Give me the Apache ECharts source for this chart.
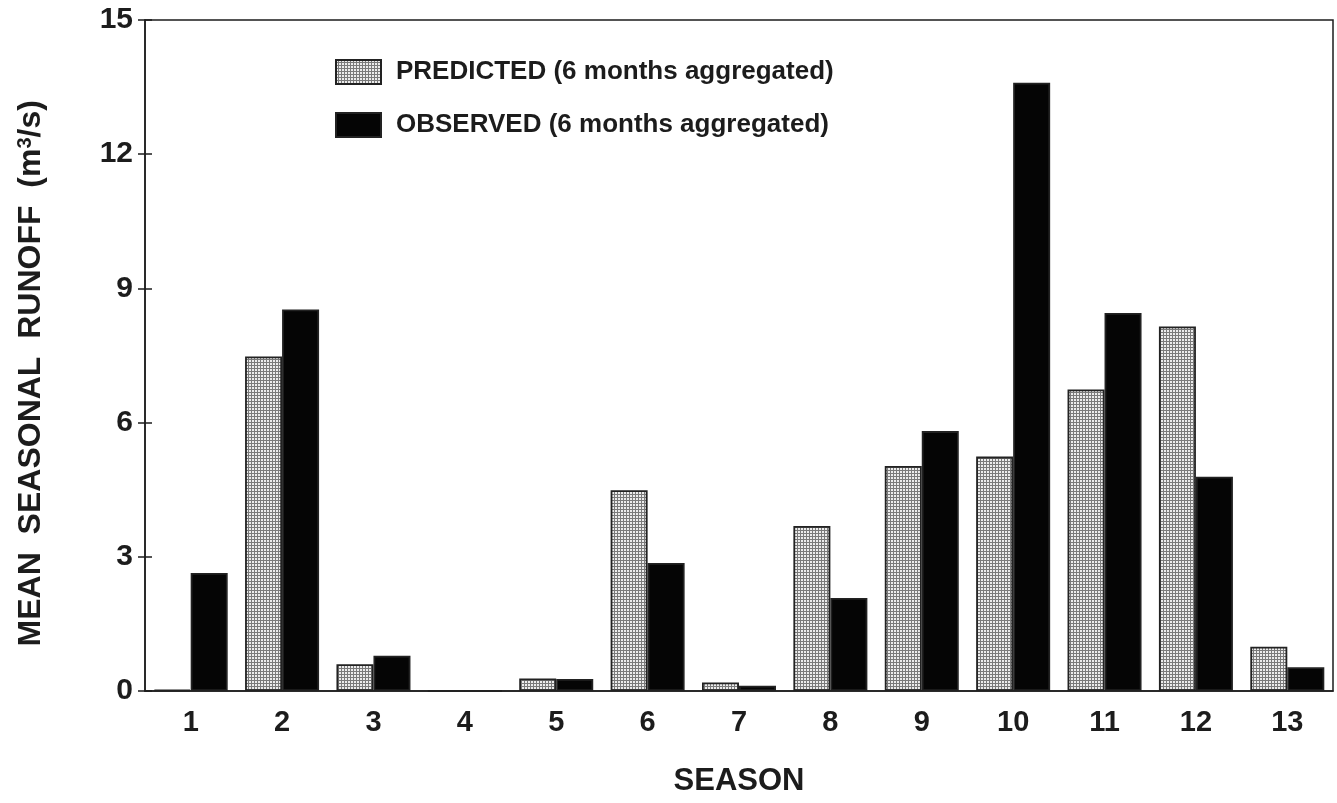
<!DOCTYPE html>
<html>
<head>
<meta charset="utf-8">
<script src="https://cdn.jsdelivr.net/npm/echarts@6/dist/echarts.min.js"></script>
<style>
  html, body { margin: 0; padding: 0; background: #ffffff; }
  #chart { width: 1337px; height: 803px; }
</style>
</head>
<body>
<div id="chart"></div>
<script>
// Seasons and mean seasonal runoff (m3/s)
const seasons = ['1', '2', '3', '4', '5', '6', '7', '8', '9', '10', '11', '12', '13'];
const predicted = [0.03, 7.48, 0.6, 0, 0.28, 4.49, 0.19, 3.69, 5.03, 5.24, 6.74, 8.15, 0.99];
const observed = [2.64, 8.53, 0.79, 0, 0.27, 2.86, 0.12, 2.08, 5.81, 13.6, 8.45, 4.79, 0.53];
const yTicks = { min: 0, max: 15, interval: 3 };

const FONT = '"Liberation Sans", Arial, Helvetica, sans-serif';
const INK = '#1c1c1c';

// fine dotted screen used for the predicted bars
function dotScreen() {
  const c = document.createElement('canvas');
  c.width = 3; c.height = 3;
  const g = c.getContext('2d');
  g.fillStyle = '#ececec';
  g.fillRect(0, 0, 3, 3);
  g.fillStyle = '#7a7a7a';
  g.fillRect(2, 0, 1, 3);
  g.fillRect(0, 2, 3, 1);
  return c;
}

const chart = echarts.init(document.getElementById('chart'), null, { renderer: 'canvas' });

chart.setOption({
  animation: false,
  backgroundColor: '#ffffff',
  grid: {
    left: 145, right: 4, top: 20, bottom: 112,
    show: true, borderColor: INK, borderWidth: 1.5, backgroundColor: 'transparent'
  },
  legend: {
    orient: 'vertical',
    left: 330, top: 54,
    itemWidth: 45, itemHeight: 24, itemGap: 27,
    selectedMode: false,
    icon: 'rect',
    textStyle: {
      fontFamily: FONT, fontWeight: 'bold', fontSize: 26, color: INK,
      padding: [0, 0, 0, 10]
    },
    data: ['PREDICTED (6 months aggregated)', 'OBSERVED (6 months aggregated)']
  },
  xAxis: {
    type: 'category',
    data: seasons,
    axisLine: { lineStyle: { color: INK, width: 1.5 } },
    axisTick: { show: false },
    axisLabel: { fontFamily: FONT, fontWeight: 'bold', fontSize: 29, color: INK, margin: 17 },
    splitLine: { show: false },
    name: 'SEASON',
    nameLocation: 'middle',
    nameGap: 75,
    nameTextStyle: { fontFamily: FONT, fontWeight: 'bold', fontSize: 31, color: INK }
  },
  yAxis: [
    {
      type: 'value',
      min: yTicks.min, max: yTicks.max, interval: yTicks.interval,
      axisLine: { show: true, lineStyle: { color: INK, width: 1.5 } },
      axisTick: { show: true, length: 7, lineStyle: { color: INK, width: 1.5 } },
      axisLabel: { fontFamily: FONT, fontWeight: 'bold', fontSize: 30, color: INK, margin: 12 },
      splitLine: { show: false },
      name: '{t|MEAN  SEASONAL  RUNOFF  (m}{s|3}{t|/s)    }',
      nameLocation: 'middle',
      nameGap: 98,
      nameRotate: 90,
      nameTextStyle: {
        rich: {
          t: { fontFamily: FONT, fontWeight: 'bold', fontSize: 32, color: INK },
          s: { fontFamily: FONT, fontWeight: 'bold', fontSize: 20, color: INK, verticalAlign: 'top' }
        }
      }
    },
    {
      // inner half of the cross-shaped ticks
      type: 'value',
      position: 'left',
      min: yTicks.min, max: yTicks.max, interval: yTicks.interval,
      axisLine: { show: false },
      axisTick: { show: true, inside: true, length: 7, lineStyle: { color: INK, width: 1.5 } },
      axisLabel: { show: false },
      splitLine: { show: false }
    }
  ],
  series: [
    {
      name: 'PREDICTED (6 months aggregated)',
      type: 'bar',
      data: predicted,
      barWidth: 37,
      barGap: '0%',
      itemStyle: {
        color: { image: dotScreen(), repeat: 'repeat' },
        borderColor: '#222222',
        borderWidth: 1.8
      }
    },
    {
      name: 'OBSERVED (6 months aggregated)',
      type: 'bar',
      data: observed,
      barWidth: 37,
      barGap: '0%',
      itemStyle: {
        color: '#050505',
        borderColor: '#222222',
        borderWidth: 1.8
      }
    }
  ]
});
</script>
</body>
</html>
